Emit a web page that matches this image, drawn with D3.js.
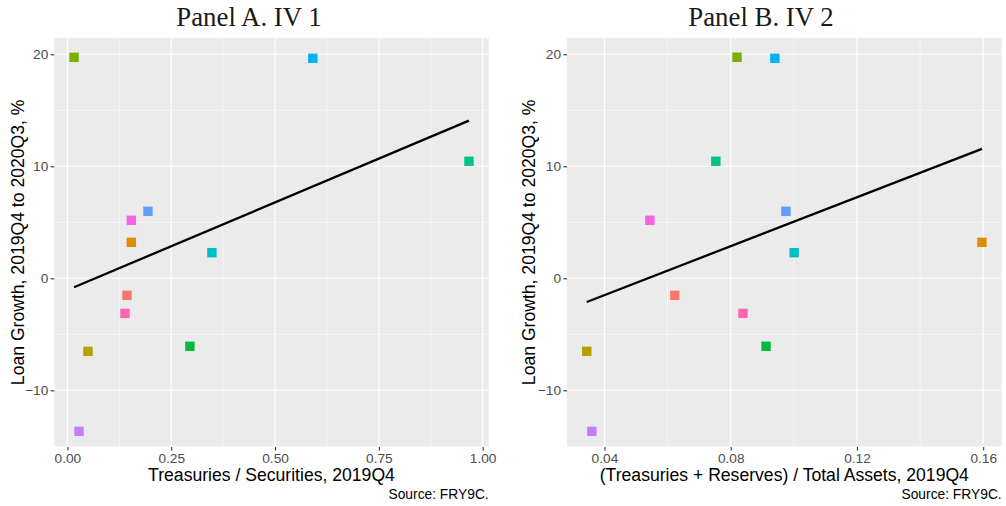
<!DOCTYPE html>
<html>
<head>
<meta charset="utf-8">
<script src="https://cdn.jsdelivr.net/npm/d3@7"></script>
<style>
  html, body { margin: 0; padding: 0; background: #ffffff; }
  svg { display: block; }
</style>
</head>
<body>
<svg id="chart" width="1006" height="506"></svg>
<script>
// Twelve banks, one colour each (ggplot hue palette order)
const bankColors = ["#F8766D", "#DE8C00", "#B79F00", "#7CAE00", "#00BA38", "#00C08B",
                    "#00BFC4", "#00B4F0", "#619CFF", "#C77CFF", "#F564E3", "#FF64B0"];

// Loan growth, 2019Q4 to 2020Q3, %
const loanGrowth = [-1.52, 3.21, -6.52, 19.73, -6.07, 10.45, 2.29, 19.64, 5.98, -13.66, 5.18, -3.13];

// IV 1: Treasuries / Securities, 2019Q4
const ivTreasSec = [0.1435, 0.154, 0.0496, 0.016, 0.295, 0.967, 0.348, 0.591, 0.194, 0.028, 0.154, 0.1387];

// IV 2: (Treasuries + Reserves) / Total Assets, 2019Q4
const ivTreasResAssets = [0.0623, 0.1596, 0.0344, 0.082, 0.0912, 0.0753, 0.1001, 0.094, 0.0975, 0.036, 0.0544, 0.0839];

// Axis ticks
const yTicks = [-10, 0, 10, 20];
const yTickLabels = ["\u221210", "0", "10", "20"];
const yMinor = [-15, -5, 5, 15];
const yDomain = [-15.06, 21.48];

const xTicksA = [0, 0.25, 0.5, 0.75, 1];
const xTickLabelsA = ["0.00", "0.25", "0.50", "0.75", "1.00"];
const xMinorA = [0.125, 0.375, 0.625, 0.875];

const xTicksB = [0.04, 0.08, 0.12, 0.16];
const xTickLabelsB = ["0.04", "0.08", "0.12", "0.16"];
const xMinorB = [0.06, 0.10, 0.14];

const panels = [
  { title: "Panel A. IV 1", xLabel: "Treasuries / Securities, 2019Q4", x: ivTreasSec,
    ticks: xTicksA, tickLabels: xTickLabelsA, minor: xMinorA,
    left: 54.3, right: 488.7, titleX: 249, yTitleX: 23.5 },
  { title: "Panel B. IV 2", xLabel: "(Treasuries + Reserves) / Total Assets, 2019Q4", x: ivTreasResAssets,
    ticks: xTicksB, tickLabels: xTickLabelsB, minor: xMinorB,
    left: 567, right: 1001.7, titleX: 761, yTitleX: 535 }
];

const panelTop = 37.7, panelBottom = 447;
const svg = d3.select("#chart");
const sans = "'Liberation Sans', Arial, Helvetica, sans-serif";

// Ordinary least squares fit, as geom_smooth(method = "lm")
function olsFit(xs, ys) {
  const mx = d3.mean(xs), my = d3.mean(ys);
  let sxy = 0, sxx = 0;
  xs.forEach((x, i) => { sxy += (x - mx) * (ys[i] - my); sxx += (x - mx) * (x - mx); });
  const slope = sxy / sxx;
  return { slope, intercept: my - slope * mx };
}

panels.forEach(p => {
  const ext = d3.extent(p.x);
  const pad = (ext[1] - ext[0]) * 0.05;
  const x = d3.scaleLinear().domain([ext[0] - pad, ext[1] + pad]).range([p.left, p.right]);
  const y = d3.scaleLinear().domain(yDomain).range([panelBottom, panelTop]);

  const g = svg.append("g");

  // panel background
  g.append("rect")
    .attr("x", p.left).attr("y", panelTop)
    .attr("width", p.right - p.left).attr("height", panelBottom - panelTop)
    .attr("fill", "#EBEBEB");

  // minor grid
  g.selectAll(".minx").data(p.minor).enter().append("line")
    .attr("x1", d => x(d)).attr("x2", d => x(d)).attr("y1", panelTop).attr("y2", panelBottom)
    .attr("stroke", "#ffffff").attr("stroke-width", 0.55);
  g.selectAll(".miny").data(yMinor.filter(v => v >= yDomain[0])).enter().append("line")
    .attr("x1", p.left).attr("x2", p.right).attr("y1", d => y(d)).attr("y2", d => y(d))
    .attr("stroke", "#ffffff").attr("stroke-width", 0.55);

  // major grid
  g.selectAll(".majx").data(p.ticks).enter().append("line")
    .attr("x1", d => x(d)).attr("x2", d => x(d)).attr("y1", panelTop).attr("y2", panelBottom)
    .attr("stroke", "#ffffff").attr("stroke-width", 1.1);
  g.selectAll(".majy").data(yTicks).enter().append("line")
    .attr("x1", p.left).attr("x2", p.right).attr("y1", d => y(d)).attr("y2", d => y(d))
    .attr("stroke", "#ffffff").attr("stroke-width", 1.1);

  // axes
  const xAxis = d3.axisBottom(x).tickValues(p.ticks)
    .tickFormat((d, i) => p.tickLabels[i]).tickSize(3.6).tickPadding(3);
  const gx = g.append("g").attr("transform", `translate(0,${panelBottom})`).call(xAxis);
  const yAxis = d3.axisLeft(y).tickValues(yTicks)
    .tickFormat((d, i) => yTickLabels[i]).tickSize(3.6).tickPadding(2.4);
  const gy = g.append("g").attr("transform", `translate(${p.left},0)`).call(yAxis);
  [gx, gy].forEach(a => {
    a.select(".domain").remove();
    a.selectAll(".tick line").attr("stroke", "#333333").attr("stroke-width", 1.1);
    a.selectAll(".tick text").attr("fill", "#4D4D4D")
      .style("font-family", sans).style("font-size", "13.7px");
  });

  // regression line over the data range
  const fit = olsFit(p.x, loanGrowth);
  g.append("path")
    .datum(ext)
    .attr("d", d3.line().x(d => x(d)).y(d => y(fit.intercept + fit.slope * d)))
    .attr("stroke", "#000000").attr("stroke-width", 2.3).attr("fill", "none");

  // points
  const sq = 9.4;
  g.selectAll(".pt").data(p.x).enter().append("rect")
    .attr("x", d => x(d) - sq / 2)
    .attr("y", (d, i) => y(loanGrowth[i]) - sq / 2)
    .attr("width", sq).attr("height", sq)
    .attr("fill", (d, i) => bankColors[i]);

  // titles
  g.append("text")
    .attr("x", p.titleX).attr("y", 26)
    .attr("text-anchor", "middle")
    .style("font-family", "'Liberation Serif', 'Times New Roman', serif")
    .style("font-size", "26.8px").attr("fill", "#1a1a1a")
    .text(p.title);

  g.append("text")
    .attr("x", (p.left + p.right) / 2).attr("y", 480.7)
    .attr("text-anchor", "middle")
    .style("font-family", sans).style("font-size", "17.6px").attr("fill", "#000000")
    .text(p.xLabel);

  g.append("text")
    .attr("transform", `translate(${p.yTitleX},${(panelTop + panelBottom) / 2}) rotate(-90)`)
    .attr("text-anchor", "middle")
    .style("font-family", sans).style("font-size", "17.6px").attr("fill", "#000000")
    .text("Loan Growth, 2019Q4 to 2020Q3, %");

  g.append("text")
    .attr("x", p.right).attr("y", 498.5)
    .attr("text-anchor", "end")
    .style("font-family", sans).style("font-size", "13.8px").attr("fill", "#000000")
    .text("Source: FRY9C.");
});
</script>
</body>
</html>
